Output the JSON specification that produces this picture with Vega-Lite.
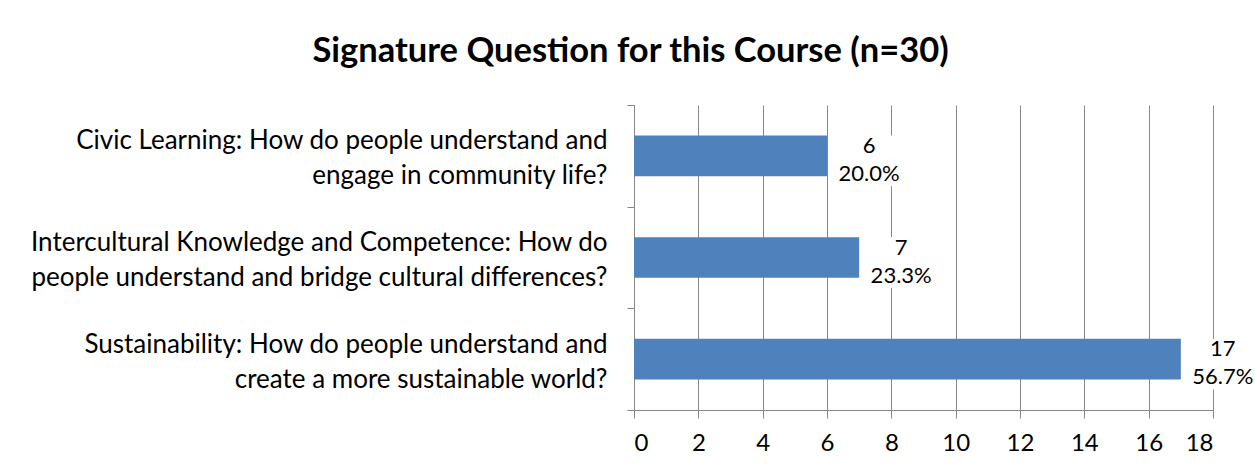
{
  "$schema": "https://vega.github.io/schema/vega-lite/v6.json",
  "width": 579,
  "height": 305,
  "autosize": {"type": "none"},
  "padding": {"left": 634, "top": 105, "right": 42, "bottom": 65},
  "background": "white",
  "title": {
    "text": "Signature Question for this Course (n=30)",
    "font": "Lato",
    "fontSize": 34.5,
    "fontWeight": "bold",
    "color": "black",
    "anchor": "middle",
    "frame": "group",
    "dx": -293,
    "offset": 23
  },
  "config": {
    "view": {"stroke": null},
    "axis": {"labelFont": "Lato", "labelColor": "black", "domainColor": "#868686", "tickColor": "#868686", "gridColor": "#868686"}
  },
  "data": {
    "values": [
      {"question": "Civic Learning: How do people understand and\nengage in community life?", "count": 6, "percent": "20.0%"},
      {"question": "Intercultural Knowledge and Competence: How do\npeople understand and bridge cultural differences?", "count": 7, "percent": "23.3%"},
      {"question": "Sustainability: How do people understand and\ncreate a more sustainable world?", "count": 17, "percent": "56.7%"}
    ]
  },
  "encoding": {
    "y": {
      "field": "question",
      "type": "nominal",
      "sort": null,
      "scale": {"paddingInner": 0, "paddingOuter": 0},
      "axis": {
        "title": null,
        "labelExpr": "isValid(datum.value) ? split(datum.value, '\\n') : ''",
        "labelFontSize": 26,
        "labelLineHeight": 35,
        "labelLimit": 800,
        "labelPadding": 20,
        "labelOffset": -15,
        "tickSize": 7,
        "tickBand": "extent",
        "labelAlign": "right"
      }
    },
    "x": {
      "field": "count",
      "type": "quantitative",
      "scale": {"domain": [0, 18], "nice": false},
      "axis": {
        "title": null,
        "values": [0, 2, 4, 6, 8, 10, 12, 14, 16, 18],
        "grid": true,
        "tickSize": 8,
        "labelFontSize": 24,
        "labelPadding": 13
      }
    }
  },
  "layer": [
    {"mark": {"type": "bar", "color": "#4F81BD", "height": {"band": 0.4}}},
    {"mark": {"type": "bar", "color": "white", "height": {"band": 0.5}, "xOffset": 9, "x2Offset": 76, "yOffset": 5}, "encoding": {"x2": {"field": "count"}}},
    {"mark": {"type": "text", "font": "Lato", "fontSize": 22, "align": "center", "baseline": "middle", "dx": 42, "dy": -10, "color": "black"}, "encoding": {"text": {"field": "count"}}},
    {"mark": {"type": "text", "font": "Lato", "fontSize": 22, "align": "center", "baseline": "middle", "dx": 42, "dy": 18, "color": "black"}, "encoding": {"text": {"field": "percent"}}}
  ]
}
